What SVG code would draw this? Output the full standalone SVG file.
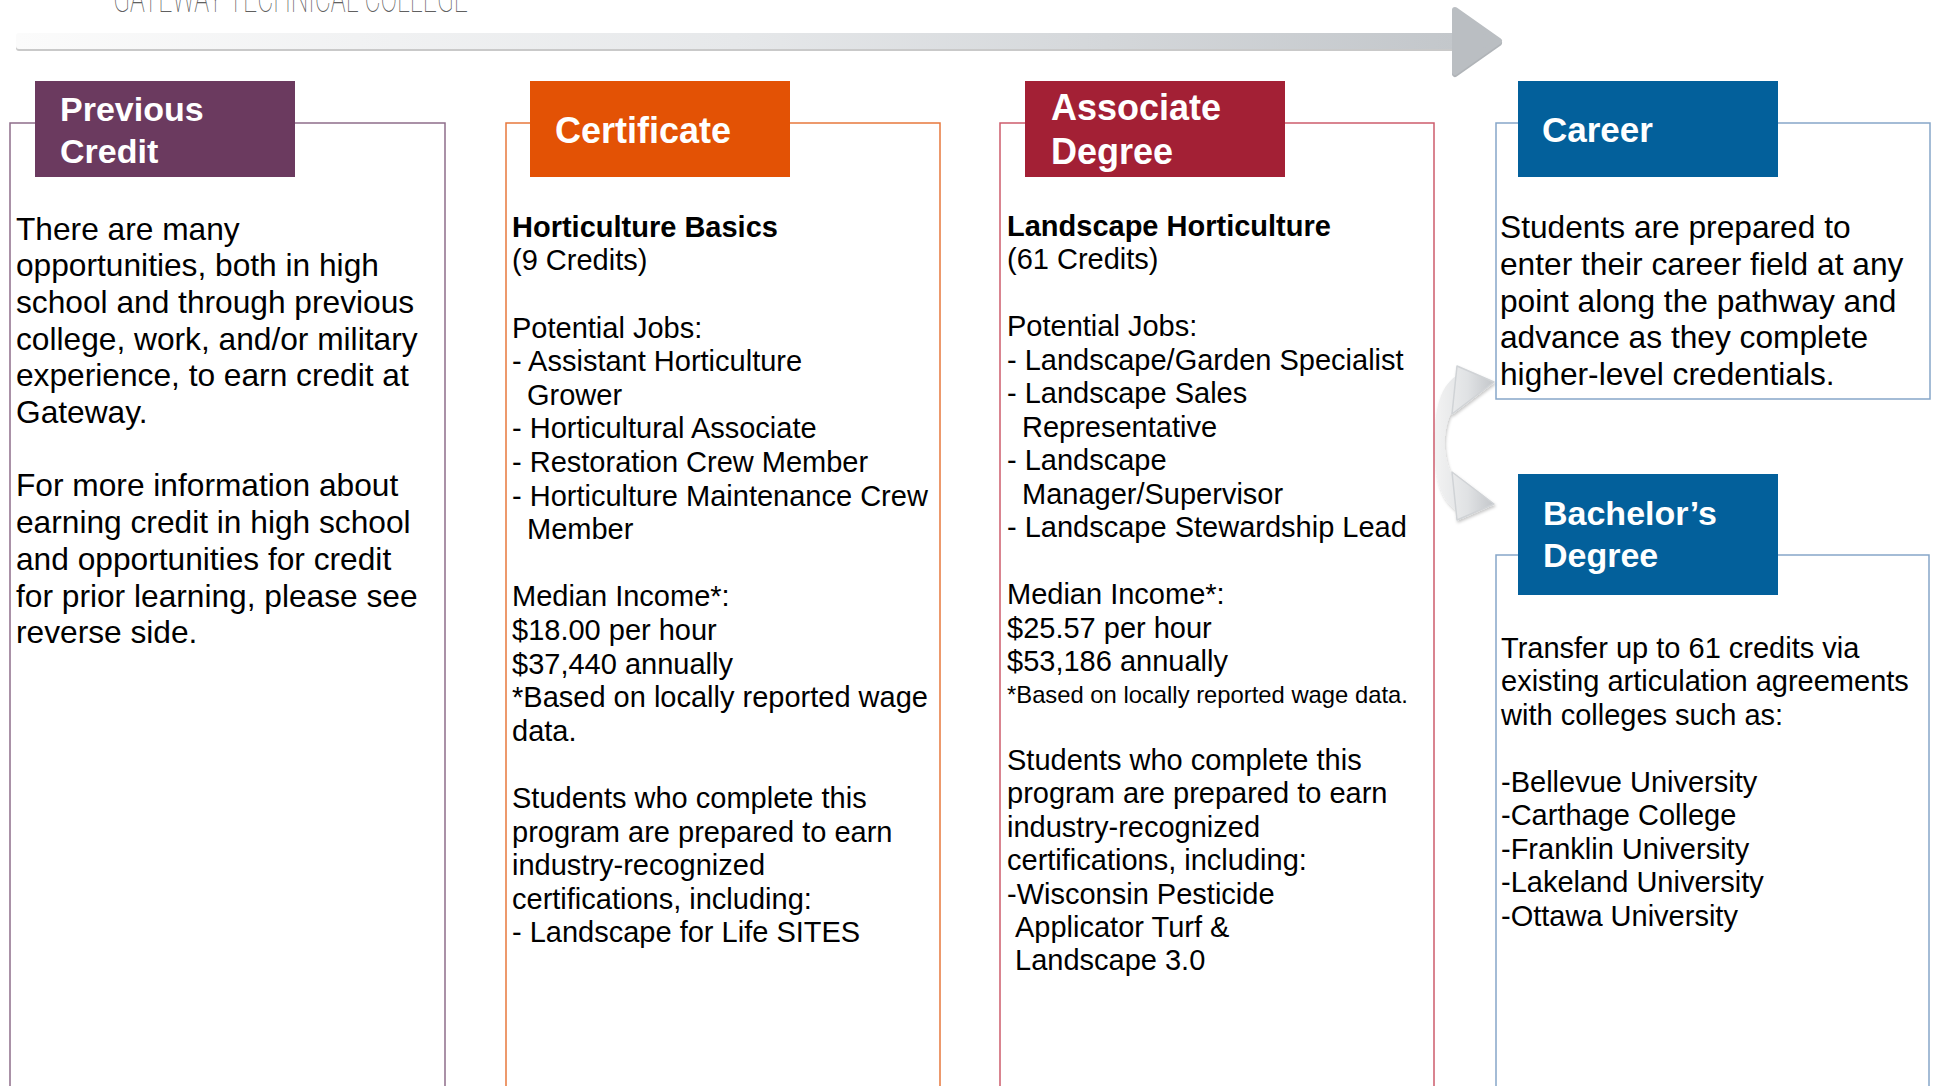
<svg xmlns="http://www.w3.org/2000/svg" width="1939" height="1086" viewBox="0 0 1939 1086">
<defs>
<style>
.t{font-family:"Liberation Sans",Arial,Helvetica,sans-serif;fill:#000}
.f32{font-size:31.7px}
.f29{font-size:29px}
.f24{font-size:23.8px}
.bd{font-weight:bold}
.hd{font-family:"Liberation Sans",Arial,Helvetica,sans-serif;font-weight:bold;fill:#fff}
.box{fill:none;stroke-width:1.5}
.curve{fill:url(#curveGrad)}
</style>
<linearGradient id="barGrad" gradientUnits="userSpaceOnUse" x1="16" y1="0" x2="1455" y2="0">
<stop offset="0" stop-color="#fbfbfb"/>
<stop offset="0.5" stop-color="#e6e8ea"/>
<stop offset="1" stop-color="#c3c7cb"/>
</linearGradient>
<linearGradient id="curveGrad" gradientUnits="userSpaceOnUse" x1="1434" y1="0" x2="1495" y2="0">
<stop offset="0" stop-color="#f3f3f3"/>
<stop offset="0.55" stop-color="#e0e2e4"/>
<stop offset="1" stop-color="#c2c5c9"/>
</linearGradient>
<filter id="shadow" x="-30%" y="-20%" width="160%" height="140%">
<feDropShadow dx="1" dy="2" stdDeviation="1.5" flood-color="#000" flood-opacity="0.22"/>
</filter>
</defs>
<rect width="1939" height="1086" fill="#fff"/>

<g id="title">
<text x="113" y="12" font-family="Roboto,'Liberation Sans',sans-serif" font-weight="100" font-size="40" fill="#606060" textLength="355" lengthAdjust="spacingAndGlyphs">GATEWAY TECHNICAL COLLEGE</text>
</g>

<g id="connectors">
<g id="timeline-arrow">
<rect x="16" y="35" width="1442" height="16" rx="3" fill="#c9c9c9"/>
<rect x="16" y="33" width="1442" height="16" rx="3" fill="url(#barGrad)"/>
<polygon points="1455,12 1499,43 1455,74" fill="#b0b4b8" stroke="#b0b4b8" stroke-width="6" stroke-linejoin="round"/>
<polygon points="1455,10 1499,41 1455,72" fill="#babec2" stroke="#babec2" stroke-width="6" stroke-linejoin="round"/>
</g>
<g id="curved-arrows" filter="url(#shadow)">
<path class="curve" d="M1435,450 C1433,408 1441,384 1459,374 L1457,406 C1448,413 1445,428 1444,450 Z"/>
<polygon class="curve" points="1457,366 1494,382 1452,414" stroke="#d0d3d6" stroke-width="1.5" stroke-linejoin="round"/>
<path class="curve" d="M1435,436 C1433,478 1441,502 1459,512 L1457,480 C1448,473 1445,458 1444,436 Z"/>
<polygon class="curve" points="1457,520 1494,504 1452,472" stroke="#d0d3d6" stroke-width="1.5" stroke-linejoin="round"/>
</g>
</g>

<g id="node-previous-credit">
<path class="box" d="M10,1090 V123 H445 V1090" stroke="#8f6e8b"/>
<rect x="35" y="81" width="260" height="96" fill="#6b3a5f"/>
<text class="hd" font-size="34" x="60" y="121">Previous</text>
<text class="hd" font-size="34" x="60" y="163">Credit</text>
<text class="t f32">
<tspan x="16" y="239.5">There are many</tspan>
<tspan x="16" y="276.2">opportunities, both in high</tspan>
<tspan x="16" y="312.9">school and through previous</tspan>
<tspan x="16" y="349.6">college, work, and/or military</tspan>
<tspan x="16" y="386.3">experience, to earn credit at</tspan>
<tspan x="16" y="423">Gateway.</tspan>
<tspan x="16" y="496.4">For more information about</tspan>
<tspan x="16" y="533.1">earning credit in high school</tspan>
<tspan x="16" y="569.8">and opportunities for credit</tspan>
<tspan x="16" y="606.5">for prior learning, please see</tspan>
<tspan x="16" y="643.2">reverse side.</tspan>
</text>
</g>

<g id="node-certificate">
<path class="box" d="M506,1090 V123 H940 V1090" stroke="#e8783c"/>
<rect x="530" y="81" width="260" height="96" fill="#e35205"/>
<text class="hd" font-size="36" x="555" y="143">Certificate</text>
<text class="t f29 bd" x="512" y="236.7">Horticulture Basics</text>
<text class="t f29">
<tspan x="512" y="270.3">(9 Credits)</tspan>
<tspan x="512" y="337.5">Potential Jobs:</tspan>
<tspan x="512" y="371.1">- Assistant Horticulture</tspan>
<tspan x="527" y="404.7">Grower</tspan>
<tspan x="512" y="438.3">- Horticultural Associate</tspan>
<tspan x="512" y="471.9">- Restoration Crew Member</tspan>
<tspan x="512" y="505.5">- Horticulture Maintenance Crew</tspan>
<tspan x="527" y="539.1">Member</tspan>
<tspan x="512" y="606.3">Median Income*:</tspan>
<tspan x="512" y="639.9">$18.00 per hour</tspan>
<tspan x="512" y="673.5">$37,440 annually</tspan>
<tspan x="512" y="707.1">*Based on locally reported wage</tspan>
<tspan x="512" y="740.7">data.</tspan>
<tspan x="512" y="807.9">Students who complete this</tspan>
<tspan x="512" y="841.5">program are prepared to earn</tspan>
<tspan x="512" y="875.1">industry-recognized</tspan>
<tspan x="512" y="908.7">certifications, including:</tspan>
<tspan x="512" y="942.3">- Landscape for Life SITES</tspan>
</text>
</g>

<g id="node-associate-degree">
<path class="box" d="M1000,1090 V123 H1434 V1090" stroke="#cd5c6c"/>
<rect x="1025" y="81" width="260" height="96" fill="#a32035"/>
<text class="hd" font-size="36" x="1051" y="120">Associate</text>
<text class="hd" font-size="36" x="1051" y="164">Degree</text>
<text class="t f29 bd" x="1007" y="235.5">Landscape Horticulture</text>
<text class="t f29">
<tspan x="1007" y="269">(61 Credits)</tspan>
<tspan x="1007" y="336">Potential Jobs:</tspan>
<tspan x="1007" y="369.5">- Landscape/Garden Specialist</tspan>
<tspan x="1007" y="403">- Landscape Sales</tspan>
<tspan x="1022" y="436.5">Representative</tspan>
<tspan x="1007" y="470">- Landscape</tspan>
<tspan x="1022" y="503.5">Manager/Supervisor</tspan>
<tspan x="1007" y="537">- Landscape Stewardship Lead</tspan>
<tspan x="1007" y="604">Median Income*:</tspan>
<tspan x="1007" y="637.5">$25.57 per hour</tspan>
<tspan x="1007" y="671">$53,186 annually</tspan>
</text>
<text class="t f24" x="1007" y="703">*Based on locally reported wage data.</text>
<text class="t f29">
<tspan x="1007" y="770">Students who complete this</tspan>
<tspan x="1007" y="803.4">program are prepared to earn</tspan>
<tspan x="1007" y="836.8">industry-recognized</tspan>
<tspan x="1007" y="870.2">certifications, including:</tspan>
<tspan x="1007" y="903.6">-Wisconsin Pesticide</tspan>
<tspan x="1015" y="937">Applicator Turf &amp;</tspan>
<tspan x="1015" y="970.4">Landscape 3.0</tspan>
</text>
</g>

<g id="node-career">
<rect class="box" x="1496" y="123" width="434" height="276" stroke="#86a6c9"/>
<rect x="1518" y="81" width="260" height="96" fill="#03609b"/>
<text class="hd" font-size="35" x="1542" y="142">Career</text>
<text class="t f32">
<tspan x="1500" y="238">Students are prepared to</tspan>
<tspan x="1500" y="274.8">enter their career field at any</tspan>
<tspan x="1500" y="311.6">point along the pathway and</tspan>
<tspan x="1500" y="348.4">advance as they complete</tspan>
<tspan x="1500" y="385.2">higher-level credentials.</tspan>
</text>
</g>

<g id="node-bachelors-degree">
<path class="box" d="M1496,1090 V555 H1929 V1090" stroke="#86a6c9"/>
<rect x="1518" y="474" width="260" height="121" fill="#03609b"/>
<text class="hd" font-size="34" x="1543" y="525">Bachelor’s</text>
<text class="hd" font-size="34" x="1543" y="567">Degree</text>
<text class="t f29">
<tspan x="1501" y="657.5">Transfer up to 61 credits via</tspan>
<tspan x="1501" y="691">existing articulation agreements</tspan>
<tspan x="1501" y="724.5">with colleges such as:</tspan>
<tspan x="1501" y="791.5">-Bellevue University</tspan>
<tspan x="1501" y="825">-Carthage College</tspan>
<tspan x="1501" y="858.5">-Franklin University</tspan>
<tspan x="1501" y="892">-Lakeland University</tspan>
<tspan x="1501" y="925.5">-Ottawa University</tspan>
</text>
</g>
</svg>
